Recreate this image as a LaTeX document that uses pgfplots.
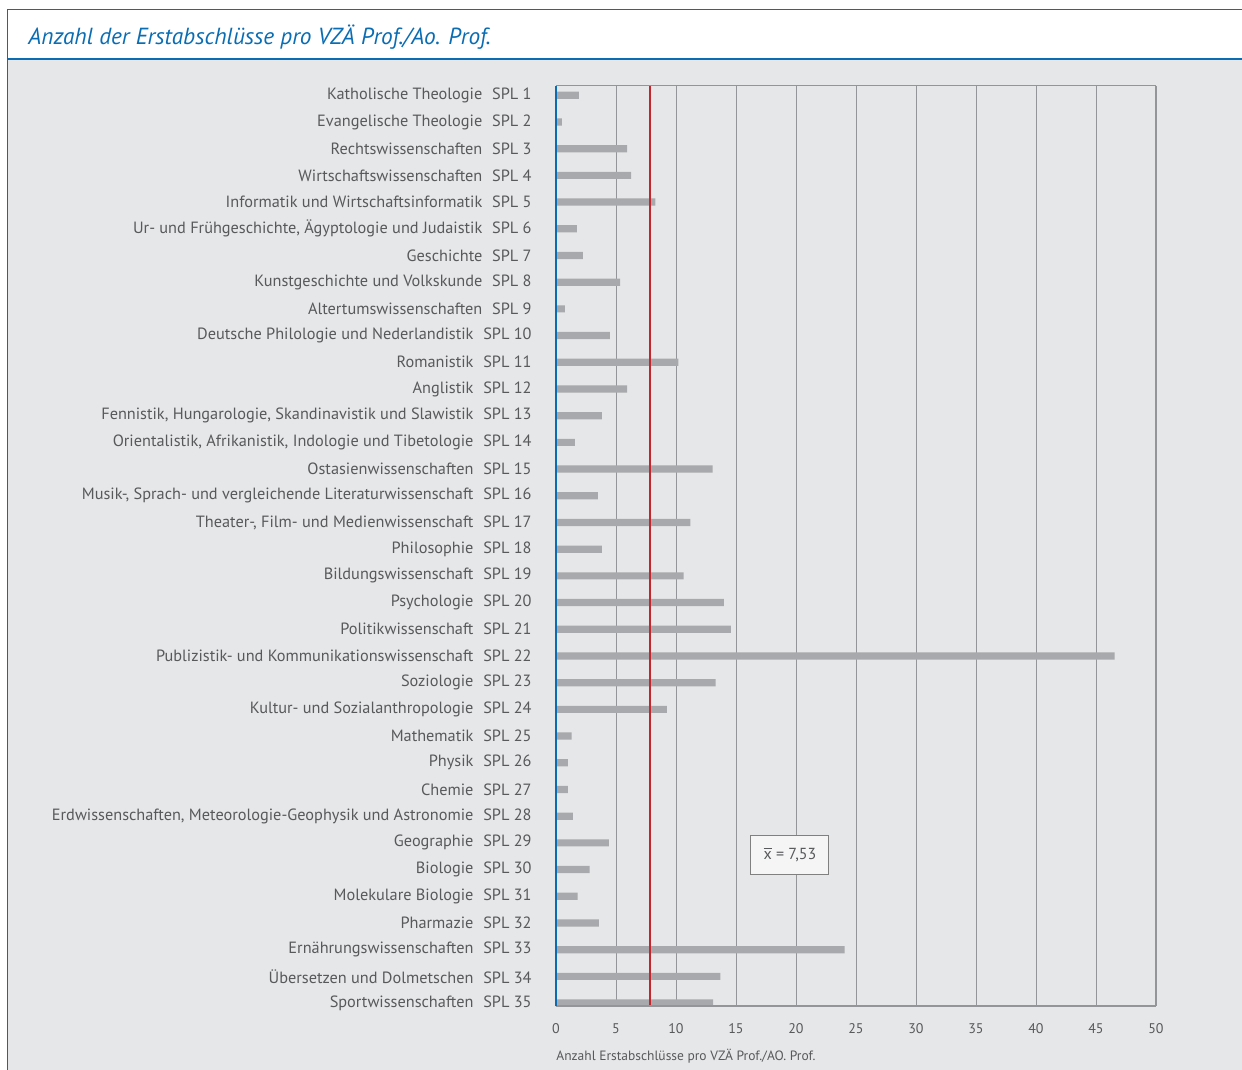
\documentclass[border=0pt]{standalone}
\usepackage{pgfplots}
\pgfplotsset{compat=1.18}
\usepackage{fontspec}
\setmainfont{PT Sans}
\definecolor{panel}{HTML}{E6E7E8}
\definecolor{myblue}{HTML}{0A6DB3}
\definecolor{txt}{HTML}{58595B}
\definecolor{bargray}{HTML}{A7A9AC}
\definecolor{gridgray}{HTML}{939598}
\definecolor{meanred}{HTML}{C1272D}
\begin{document}
\begin{tikzpicture}[x=0.5pt,y=0.5pt]
\begin{scope}[shift={(-556,-64)}]
\useasboundingbox (0,0) rectangle (1242,1070);
\fill[white] (0,0) rectangle (1242,1070);
\fill[panel] (8,0) rectangle (1242,1010);
\draw[myblue,line width=0.5pt] (7.5,0) -- (7.5,1060.5) -- (1242,1060.5);
\draw[myblue,line width=1.1pt] (7,1011) -- (1242,1011);
\node[anchor=base west,inner sep=0pt,text=myblue,font=\fontsize{11.65}{14}\selectfont\itshape] at (28,1025) {Anzahl der Erstabschlüsse pro VZÄ Prof./Ao. Prof.};
\end{scope}
\begin{axis}[
  at={(0,0)}, anchor=south west,
  scale only axis, width=300pt, height=460pt,
  xbar, bar width=3.6pt, bar shift=0pt,
  y dir=reverse,
  xmin=0, xmax=50, ymin=0.652, ymax=35.11,
  xtick={0,5,...,50},
  ytick={1,...,35},
  major tick length=0pt,
  axis line style={draw=none},
  xmajorgrids, grid style={gridgray,line width=0.45pt},
  /pgf/number format/assume math mode=true,
  xticklabel style={font=\fontsize{7}{8}\selectfont, text=txt, inner sep=0pt, yshift=-8.5pt},
  yticklabel style={font=\fontsize{8.15}{9}\selectfont, text=txt, anchor=east, inner sep=0pt, xshift=-12pt},
  xlabel={Anzahl Erstabschlüsse pro VZÄ Prof./AO. Prof.},
  xlabel style={font=\fontsize{6.75}{8}\selectfont, text=txt, at={(axis description cs:0,0)}, anchor=north west, inner sep=0pt, yshift=-21.5pt},
  yticklabels={
    Katholische Theologie\hspace{0.6em}SPL 1,
    Evangelische Theologie\hspace{0.6em}SPL 2,
    Rechtswissenschaften\hspace{0.6em}SPL 3,
    Wirtschaftswissenschaften\hspace{0.6em}SPL 4,
    Informatik und Wirtschaftsinformatik\hspace{0.6em}SPL 5,
    {Ur- und Frühgeschichte, Ägyptologie und Judaistik\hspace{0.6em}SPL 6},
    Geschichte\hspace{0.6em}SPL 7,
    Kunstgeschichte und Volkskunde\hspace{0.6em}SPL 8,
    Altertumswissenschaften\hspace{0.6em}SPL 9,
    Deutsche Philologie und Nederlandistik\hspace{0.6em}SPL 10,
    Romanistik\hspace{0.6em}SPL 11,
    Anglistik\hspace{0.6em}SPL 12,
    {Fennistik, Hungarologie, Skandinavistik und Slawistik\hspace{0.6em}SPL 13},
    {Orientalistik, Afrikanistik, Indologie und Tibetologie\hspace{0.6em}SPL 14},
    Ostasienwissenschaften\hspace{0.6em}SPL 15,
    {Musik-, Sprach- und vergleichende Literaturwissenschaft\hspace{0.6em}SPL 16},
    {Theater-, Film- und Medienwissenschaft\hspace{0.6em}SPL 17},
    Philosophie\hspace{0.6em}SPL 18,
    Bildungswissenschaft\hspace{0.6em}SPL 19,
    Psychologie\hspace{0.6em}SPL 20,
    Politikwissenschaft\hspace{0.6em}SPL 21,
    Publizistik- und Kommunikationswissenschaft\hspace{0.6em}SPL 22,
    Soziologie\hspace{0.6em}SPL 23,
    Kultur- und Sozialanthropologie\hspace{0.6em}SPL 24,
    Mathematik\hspace{0.6em}SPL 25,
    Physik\hspace{0.6em}SPL 26,
    Chemie\hspace{0.6em}SPL 27,
    {Erdwissenschaften, Meteorologie-Geophysik und Astronomie\hspace{0.6em}SPL 28},
    Geographie\hspace{0.6em}SPL 29,
    Biologie\hspace{0.6em}SPL 30,
    Molekulare Biologie\hspace{0.6em}SPL 31,
    Pharmazie\hspace{0.6em}SPL 32,
    Ernährungswissenschaften\hspace{0.6em}SPL 33,
    Übersetzen und Dolmetschen\hspace{0.6em}SPL 34,
    Sportwissenschaften\hspace{0.6em}SPL 35},
  clip=false,
]
\addplot[fill=bargray, draw=none] coordinates {
(1.9,1) (0.48,2) (5.93,3) (6.27,4) (8.28,5) (1.74,6) (2.24,7) (5.34,8) (0.73,9) (4.5,10)
(10.2,11) (5.93,12) (3.83,13) (1.57,14) (13.06,15) (3.5,16) (11.2,17) (3.83,18) (10.63,19) (13.98,20)
(14.57,21) (46.55,22) (13.3,23) (9.25,24) (1.3,25) (0.98,26) (0.98,27) (1.4,28) (4.4,29) (2.8,30)
(1.8,31) (3.57,32) (24.05,33) (13.7,34) (13.1,35)};
\addplot[draw=meanred, color=meanred, line width=1pt, xbar=false, sharp plot, no marks] coordinates {(7.8,0.652) (7.8,35.11)};
\draw[gridgray,line width=0.5pt] (axis description cs:0,1) -- (axis description cs:1,1) -- (axis description cs:1,0);
\draw[gridgray,line width=1pt] (axis description cs:0,0) -- (axis description cs:1,0);
\draw[myblue,line width=1.4pt] (axis description cs:0,0) -- (axis description cs:0,1);
\node[draw=gray, fill=white!60!panel, line width=0.5pt, minimum width=39pt, minimum height=19.5pt, font=\fontsize{8}{9}\selectfont, text=txt] at (axis cs:19.5,29.45) {$\overline{\mbox{x}}$ = 7,53};
\end{axis}
\end{tikzpicture}
\end{document}
